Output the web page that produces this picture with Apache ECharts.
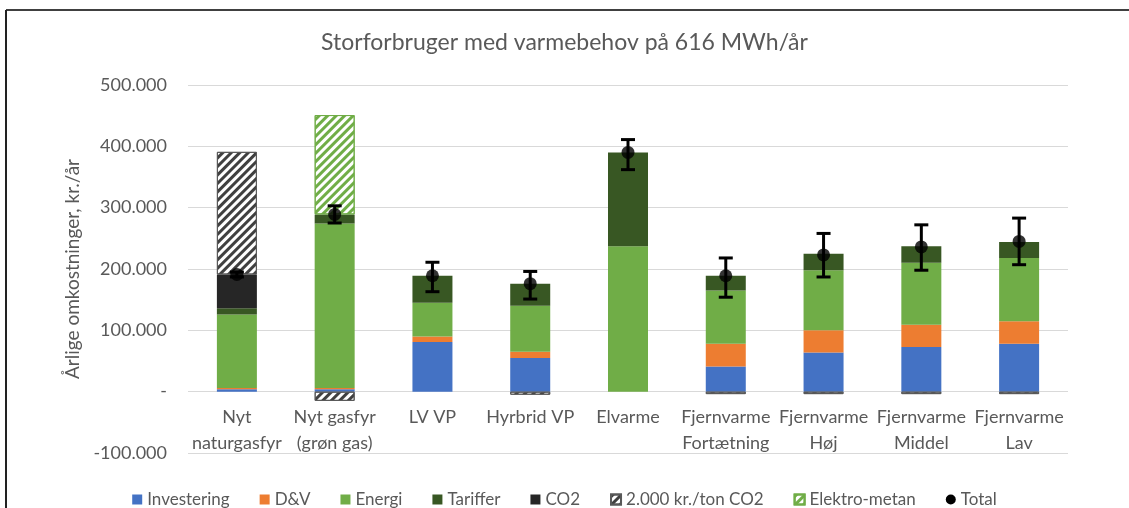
<!DOCTYPE html>
<html>
<head>
<meta charset="utf-8">
<script src="https://cdn.jsdelivr.net/npm/echarts@6/dist/echarts.min.js"></script>
<style>
html,body{margin:0;padding:0;background:#fff;}
#c{width:1129px;height:508px;}
</style>
</head>
<body>
<div id="c"></div>
<script>
const categories = ['Nyt\nnaturgasfyr','Nyt gasfyr\n(grøn gas)','LV VP','Hyrbrid VP','Elvarme','Fjernvarme\nFortætning','Fjernvarme\nHøj','Fjernvarme\nMiddel','Fjernvarme\nLav'];
const investering = [4000, 4000, 81000, 55000, 0, 41000, 64000, 73000, 78000];
const dv = [2000, 2000, 9000, 10000, 0, 37000, 36000, 36000, 37000];
const energi = [120000, 268000, 55000, 75000, 237000, 87000, 98000, 101000, 103000];
const tariffer = [10000, 15000, 44000, 36000, 153000, 24000, 27000, 27000, 26000];
const co2 = [55000, null, null, null, null, null, null, null, null];
const co2Pris = [200000, -15000, null, -5000, null, -4000, -4000, -4000, -4000];
const elektroMetan = [null, 162000, null, null, null, null, null, null, null];
const total = [191000, 289000, 189000, 176000, 390000, 189000, 223000, 236000, 245000];
const totalLow = [187000, 275000, 163000, 151000, 362000, 154000, 187000, 198000, 207000];
const totalHigh = [195000, 303000, 211000, 196000, 411000, 218000, 258000, 272000, 283000];
const yTicks = {min: -100000, max: 500000, interval: 100000};

const FONT = 'Lato';
const TXT = '#595959';
const chart = echarts.init(document.getElementById('c'), null, {renderer: 'canvas'});

function fmt(v) {
  if (v === 0) return '-';
  const s = Math.abs(v).toString().replace(/\B(?=(\d{3})+(?!\d))/g, '.');
  return (v < 0 ? '-' : '') + s;
}

const hatch = (color) => ({
  symbol: 'rect',
  color: color,
  dashArrayX: [1, 0],
  dashArrayY: [3, 3],
  symbolSize: 1,
  rotation: -Math.PI / 4
});

const barBase = {type: 'bar', stack: 'a', barWidth: 40};

chart.setOption({
  animation: false,
  textStyle: {fontFamily: FONT},
  title: {
    text: 'Storforbruger med varmebehov på 616 MWh/år',
    left: 'center', top: 26,
    textStyle: {fontFamily: FONT, fontSize: 23, fontWeight: 'normal', color: TXT}
  },
  graphic: [
    {type: 'line', shape: {x1: 6, y1: 10, x2: 1129, y2: 10}, style: {stroke: '#404040', lineWidth: 2}},
    {type: 'line', shape: {x1: 6, y1: 10, x2: 6, y2: 508}, style: {stroke: '#222', lineWidth: 2}}
  ],
  grid: {left: 188, right: 61, top: 85, bottom: 55, containLabel: false, outerBoundsMode: 'none'},
  legend: {
    top: 486, left: 'center',
    itemWidth: 10, itemHeight: 10, itemGap: 30,
    textStyle: {fontFamily: FONT, fontSize: 17, color: TXT},
    data: [
      {name: 'Investering', icon: 'rect'},
      {name: 'D&V', icon: 'rect'},
      {name: 'Energi', icon: 'rect'},
      {name: 'Tariffer', icon: 'rect'},
      {name: 'CO2', icon: 'rect'},
      {name: '2.000 kr./ton CO2', icon: 'rect'},
      {name: 'Elektro-metan', icon: 'rect'},
      {name: 'Total', icon: 'circle'}
    ]
  },
  xAxis: {
    type: 'category',
    data: categories,
    axisLine: {show: false},
    axisTick: {show: false},
    axisLabel: {fontFamily: FONT, fontSize: 18, color: TXT, lineHeight: 26, margin: -49, interval: 0}
  },
  yAxis: {
    type: 'value',
    min: yTicks.min, max: yTicks.max, interval: yTicks.interval,
    name: 'Årlige omkostninger, kr./år',
    nameLocation: 'middle', nameGap: 106,
    nameTextStyle: {fontFamily: FONT, fontSize: 19, color: TXT},
    axisLine: {show: false},
    axisTick: {show: false},
    splitLine: {lineStyle: {color: '#d9d9d9', width: 1}},
    axisLabel: {fontFamily: FONT, fontSize: 18, color: TXT, margin: 21, formatter: fmt}
  },
  series: [
    Object.assign({}, barBase, {name: 'Investering', data: investering, itemStyle: {color: '#4472C4'}}),
    Object.assign({}, barBase, {name: 'D&V', data: dv, itemStyle: {color: '#ED7D31'}}),
    Object.assign({}, barBase, {name: 'Energi', data: energi, itemStyle: {color: '#70AD47'}}),
    Object.assign({}, barBase, {name: 'Tariffer', data: tariffer, itemStyle: {color: '#385723'}}),
    Object.assign({}, barBase, {name: 'CO2', data: co2, itemStyle: {color: '#262626'}}),
    Object.assign({}, barBase, {name: '2.000 kr./ton CO2', data: co2Pris,
      itemStyle: {color: '#ffffff', borderColor: '#595959', borderWidth: 1, decal: hatch('#404040')}}),
    Object.assign({}, barBase, {name: 'Elektro-metan', data: elektroMetan,
      itemStyle: {color: '#ffffff', borderColor: '#70AD47', borderWidth: 1, decal: hatch('#70AD47')}}),
    {
      type: 'custom', name: 'Total', z: 10,
      data: categories.map((c, i) => [i, totalLow[i], totalHigh[i]]),
      renderItem: function (params, api) {
        const lo = api.coord([api.value(0), api.value(1)]);
        const hi = api.coord([api.value(0), api.value(2)]);
        const w = 7;
        const st = {stroke: '#000', lineWidth: 3};
        return {type: 'group', children: [
          {type: 'line', shape: {x1: lo[0], y1: lo[1], x2: hi[0], y2: hi[1]}, style: st},
          {type: 'line', shape: {x1: lo[0] - w, y1: lo[1], x2: lo[0] + w, y2: lo[1]}, style: st},
          {type: 'line', shape: {x1: hi[0] - w, y1: hi[1], x2: hi[0] + w, y2: hi[1]}, style: st}
        ]};
      },
      itemStyle: {color: '#000'}
    },
    {
      type: 'scatter', name: 'Total', z: 11,
      data: total, symbol: 'circle', symbolSize: 13,
      itemStyle: {color: '#000'}
    }
  ]
});
</script>
</body>
</html>
